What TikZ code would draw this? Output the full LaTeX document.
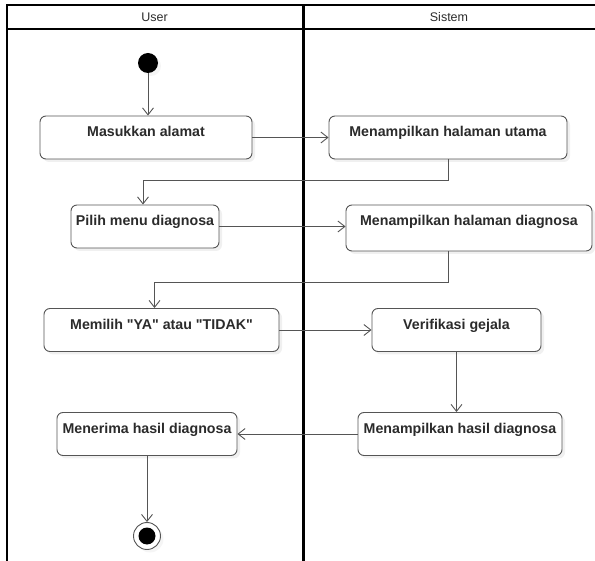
\documentclass[tikz,border=0pt]{standalone}
\usepackage{fontspec}
\setmainfont{Liberation Sans}[Ligatures=TeXOff]
\usepackage{tikz}
\usetikzlibrary{
  positioning,
  calc,
  arrows.meta,
  shadows
}
\definecolor{lineGray}{HTML}{555555}
\definecolor{textGray}{HTML}{2B2B2B}
\tikzstyle{lane}=[black, line width=2pt]
\tikzstyle{action}=[draw=lineGray, line width=0.9pt, rounded corners=6pt, fill=white,
  font=\bfseries\fontsize{14.2}{16}\selectfont, text=textGray,
  inner xsep=2pt, inner ysep=0pt, text height=21pt, text depth=22pt,
  drop shadow={shadow xshift=3pt, shadow yshift=-3pt, opacity=0.12}]
\tikzstyle{flow}=[draw=lineGray, line width=0.9pt, -{Straight Barb[length=7pt, width=11pt]}]

\begin{document}
\begin{tikzpicture}[x=1pt, y=-1pt]
      \useasboundingbox (0,0) rectangle (595,561);

      % swimlane
      \draw[lane] (6.5,561) -- (6.5,5.5) -- (595,5.5);
      \draw[lane] (6.5,29) -- (595,29);
      \draw[lane, line width=3pt] (303.5,5.5) -- (303.5,561);
      \node (user) at (154.5,17.5) [font=\fontsize{12.5}{14}\selectfont, text=textGray]{User};
      \node (sistem) at (449,17.5) [font=\fontsize{12.5}{14}\selectfont, text=textGray]{Sistem};

      % awal dan akhir
      \node (start) at (148,63) [circle, fill=black, minimum size=20pt, inner sep=0pt,
        drop shadow={shadow xshift=3pt, shadow yshift=-3pt, opacity=0.08}]{};
      \node (finish) at (147,536) [circle, draw=lineGray, line width=0.9pt, fill=white,
        minimum size=27pt, inner sep=0pt,
        drop shadow={shadow xshift=3pt, shadow yshift=-3pt, opacity=0.08}]{};
      \node (finishDot) at (finish) [circle, fill=black, minimum size=17pt, inner sep=0pt]{};

      % aktivitas
      \node (masuk) at (146,137.5) [action, minimum width=212pt]{Masukkan alamat};
      \node (utama) at (448,137.5) [action, minimum width=238pt]{Menampilkan halaman utama};
      \node (pilih) at (145,226.5) [action, minimum width=148pt]{Pilih menu diagnosa};
      \node (diag) at (469,228) [action, minimum width=246pt, text depth=25pt]{Menampilkan halaman diagnosa};
      \node (memilih) at (161.5,330) [action, minimum width=235pt]{Memilih "YA" atau "TIDAK"};
      \node (verif) at (456.5,330) [action, minimum width=169pt]{Verifikasi gejala};
      \node (hasil) at (460,434) [action, minimum width=204pt]{Menampilkan hasil diagnosa};
      \node (terima) at (147,434) [action, minimum width=180pt]{Menerima hasil diagnosa};

      % alur
      \draw[flow] (start) -- (start |- masuk.north);
      \draw[flow] (masuk) -- (utama);
      \draw[flow] (utama.south) -- ++(0,21) -| ([xshift=-2pt]pilih.north);
      \draw[flow] (pilih.east) -- (pilih.east -| diag.west);
      \draw[flow] (diag.south -| utama.south) -- ++(0,31) -| ([xshift=-7pt]memilih.north);
      \draw[flow] (memilih) -- (verif);
      \draw[flow] (verif) -- (verif |- hasil.north);
      \draw[flow] (hasil) -- (terima);
      \draw[flow] (terima) -- (finish);
    \end{tikzpicture}
\end{document}
